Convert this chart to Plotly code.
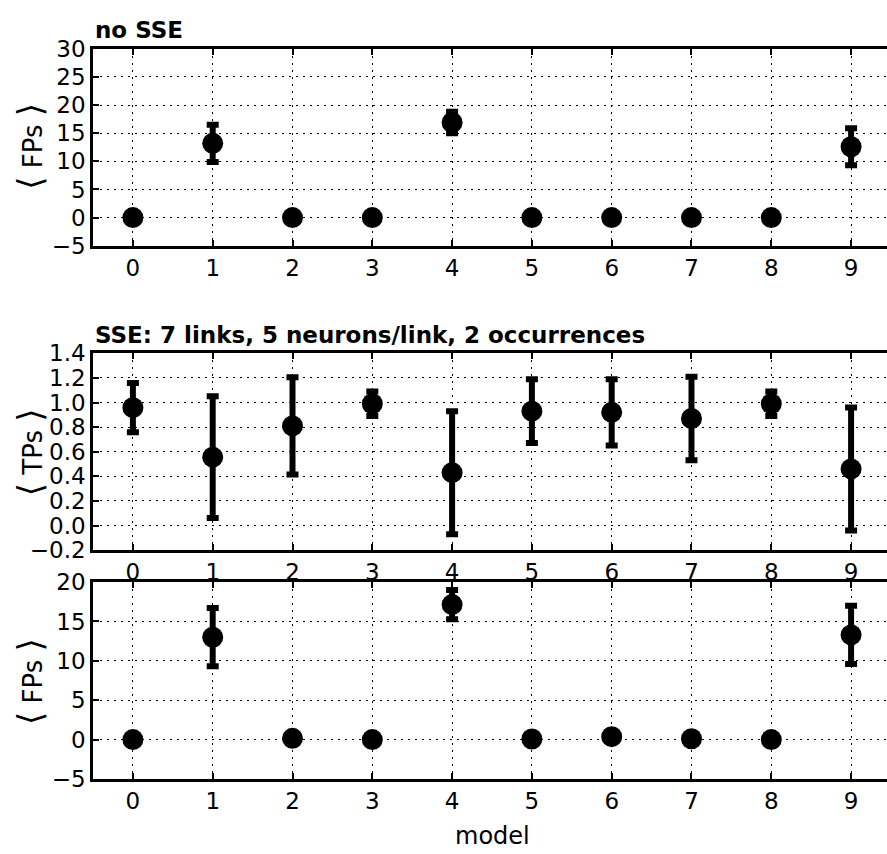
import plotly.graph_objects as go

models = [0, 1, 2, 3, 4, 5, 6, 7, 8, 9]
tick_labels = ["0", "1", "2", "3", "4", "5", "6", "7", "8", "9"]

# panel 1: no SSE, false positives
fp_nosse = [0.0, 13.2, 0.0, 0.0, 16.9, 0.0, 0.0, 0.0, 0.0, 12.6]
fp_nosse_err = [0.0, 3.3, 0.0, 0.0, 1.9, 0.0, 0.0, 0.0, 0.0, 3.3]

# panel 2: SSE, true positives
tp_sse = [0.958, 0.556, 0.81, 0.99, 0.43, 0.93, 0.92, 0.87, 0.99, 0.46]
tp_sse_err = [0.2, 0.495, 0.395, 0.1, 0.5, 0.26, 0.27, 0.34, 0.1, 0.5]

# panel 3: SSE, false positives
fp_sse = [0.0, 13.0, 0.16, 0.0, 17.15, 0.08, 0.37, 0.1, 0.0, 13.3]
fp_sse_err = [0.0, 3.7, 0.0, 0.0, 1.85, 0.0, 0.0, 0.0, 0.0, 3.7]

W, H = 887, 854
FONT = "DejaVu Sans"

fig = go.Figure()

panels = [
    (fp_nosse, fp_nosse_err, "x", "y"),
    (tp_sse, tp_sse_err, "x2", "y2"),
    (fp_sse, fp_sse_err, "x3", "y3"),
]
for vals, errs, xa, ya in panels:
    fig.add_trace(go.Scatter(
        x=models, y=vals, mode="markers", xaxis=xa, yaxis=ya,
        marker=dict(color="black", size=21),
        error_y=dict(type="data", array=errs, visible=True, color="black",
                     thickness=6, width=6),
        showlegend=False, cliponaxis=False,
    ))

def ydom(top_px, bot_px):
    return [1 - bot_px / H, 1 - top_px / H]

xdom = [93 / W, 1.0]
common_x = dict(
    domain=xdom, range=[-0.5, 9.45], tickmode="array", tickvals=models,
    ticktext=tick_labels, ticks="inside", ticklen=6, tickwidth=1.5,
    tickcolor="black", showline=True, linewidth=2.5, linecolor="black",
    mirror="ticks", showgrid=True, gridcolor="black", gridwidth=1,
    griddash="2px,5px", zeroline=False,
    tickfont=dict(family=FONT, size=23, color="black"),
)
common_y = dict(
    ticks="inside", ticklen=6, tickwidth=1.5, tickcolor="black",
    showline=True, linewidth=2.5, linecolor="black", mirror=False,
    showgrid=True, gridcolor="black", gridwidth=1, griddash="2px,5px",
    zeroline=False, tickfont=dict(family=FONT, size=23, color="black"),
)

fig.update_layout(
    width=W, height=H,
    margin=dict(l=0, r=0, t=0, b=0),
    paper_bgcolor="white", plot_bgcolor="white",
    font=dict(family=FONT, color="black"),
    xaxis=dict(common_x, anchor="y"),
    xaxis2=dict(common_x, anchor="y2"),
    xaxis3=dict(common_x, anchor="y3"),
    yaxis=dict(common_y, domain=ydom(37, 240), range=[-5, 30], dtick=5,
               tick0=0, anchor="x"),
    yaxis2=dict(common_y, domain=ydom(351, 554), range=[-0.2, 1.4],
                dtick=0.2, tick0=0, tickformat=".1f", anchor="x2"),
    yaxis3=dict(common_y, domain=ydom(587, 790), range=[-5, 20], dtick=5,
                tick0=0, anchor="x3"),
)

def bracketed(s):
    return ("<span style='font-size:34px'>⟨</span> " + s +
            " <span style='font-size:34px'>⟩</span>")

annots = [
    dict(text="<b>no SSE</b>", x=93 / W, y=1 - 18 / H, xanchor="left",
         yanchor="middle", font=dict(size=23)),
    dict(text="<b>SSE: 7 links, 5 neurons/link, 2 occurrences</b>",
         x=93 / W, y=1 - 332 / H, xanchor="left", yanchor="middle",
         font=dict(size=23)),
    dict(text=bracketed("FPs"), x=30 / W, y=1 - 138 / H, textangle=-90,
         xanchor="center", yanchor="middle", font=dict(size=26)),
    dict(text=bracketed("TPs"), x=30 / W, y=1 - 453 / H, textangle=-90,
         xanchor="center", yanchor="middle", font=dict(size=26)),
    dict(text=bracketed("FPs"), x=30 / W, y=1 - 690 / H, textangle=-90,
         xanchor="center", yanchor="middle", font=dict(size=26)),
    dict(text="model", x=492 / W, y=1 - 849 / H, xanchor="center",
         yanchor="middle", font=dict(size=24)),
]
for a in annots:
    a["font"].update(family=FONT, color="black")
    fig.add_annotation(xref="paper", yref="paper", showarrow=False, **a)

fig.write_html("out.html")
